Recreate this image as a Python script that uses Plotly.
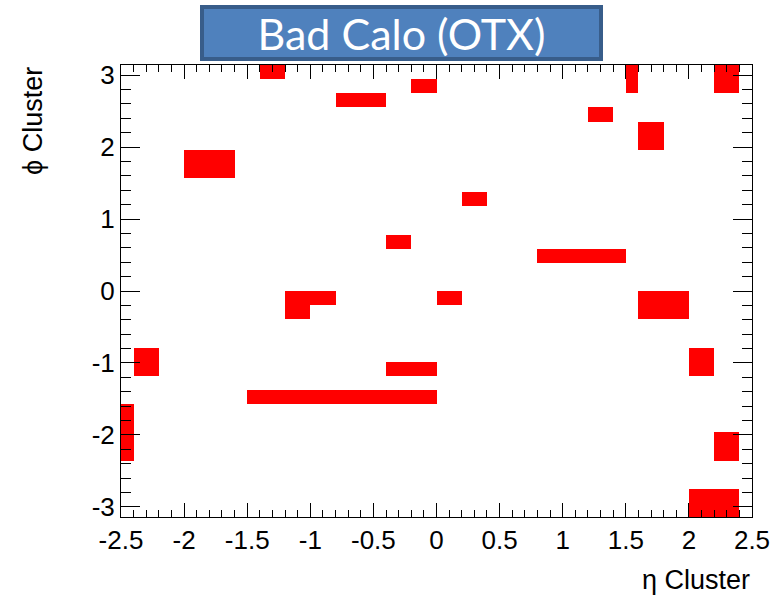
import numpy as np
import plotly.graph_objects as go

# --- data: hot (bad) calorimeter cells, eta ranges and phi-bin ranges (pi/16 bins, 0..31)
eta_low  = [-1.4, -0.8, -0.2, -2.0, 1.5, 2.2, 1.2, 1.6, 0.2, -0.4, 0.8, -1.2, -1.2, 0.0, 1.6, -2.4, 2.0, -0.4, -1.5, -2.5, 2.2, 2.0]
eta_high = [-1.2, -0.4,  0.0, -1.6, 1.6, 2.4, 1.4, 1.8, 0.4, -0.2, 1.5, -0.8, -1.0, 0.2, 2.0, -2.2, 2.2,  0.0,  0.0, -2.4, 2.4, 2.4]
phi_bin_low  = [31, 29, 30, 24, 30, 30, 28, 26, 22, 19, 18, 15, 14, 15, 14, 10, 10, 10, 8, 4, 4, 0]
phi_bin_high = [31, 29, 30, 25, 31, 31, 28, 27, 22, 19, 18, 15, 14, 15, 15, 11, 11, 10, 8, 7, 5, 1]

x_tick_vals = [-2.5, -2, -1.5, -1, -0.5, 0, 0.5, 1, 1.5, 2, 2.5]
x_tick_text = ["-2.5", "-2", "-1.5", "-1", "-0.5", "0", "0.5", "1", "1.5", "2", "2.5"]
y_tick_vals = [-3, -2, -1, 0, 1, 2, 3]
y_tick_text = ["-3", "-2", "-1", "0", "1", "2", "3"]

# --- binning
n_eta, n_phi = 50, 32
eta_edges = np.round(np.linspace(-2.5, 2.5, n_eta + 1), 3)
phi_edges = np.linspace(-np.pi, np.pi, n_phi + 1)
z = np.full((n_phi, n_eta), np.nan)
for el, eh, pl, ph in zip(eta_low, eta_high, phi_bin_low, phi_bin_high):
    i0 = int(round((el + 2.5) / 0.1))
    i1 = int(round((eh + 2.5) / 0.1))
    z[pl:ph + 1, i0:i1] = 1.0

fig = go.Figure(go.Heatmap(
    x=eta_edges, y=phi_edges, z=z,
    colorscale=[[0, "#ff0000"], [1, "#ff0000"]], zmin=0, zmax=1,
    showscale=False, hoverongaps=False,
))

font_tick = dict(family="Liberation Sans, Arial, sans-serif", size=26, color="black")
font_title = dict(family="Liberation Sans, Arial, sans-serif", size=27, color="black")

fig.update_layout(
    width=784, height=598,
    margin=dict(l=121, r=32, t=65, b=81),
    paper_bgcolor="white", plot_bgcolor="white",
    showlegend=False,
    xaxis=dict(
        range=[-2.5, 2.5], showgrid=False, zeroline=False,
        showline=True, linecolor="black", linewidth=1, mirror="ticks",
        ticks="inside", ticklen=14, tickcolor="black", tickwidth=1,
        tickmode="array", tickvals=x_tick_vals, ticktext=x_tick_text,
        tickfont=font_tick,
        minor=dict(ticks="inside", ticklen=7, dtick=0.1, tick0=0, tickcolor="black", showgrid=False),
    ),
    yaxis=dict(
        range=[-np.pi, np.pi], showgrid=False, zeroline=False,
        showline=True, linecolor="black", linewidth=1, mirror="ticks",
        ticks="inside", ticklen=19, tickcolor="black", tickwidth=1,
        tickmode="array", tickvals=y_tick_vals, ticktext=y_tick_text,
        tickfont=font_tick,
        minor=dict(ticks="inside", ticklen=10, dtick=0.2, tick0=0, tickcolor="black", showgrid=False),
    ),
    annotations=[
        dict(text="Bad Calo (OTX)", xref="paper", yref="paper", x=0.4445, y=1.0708,
             xanchor="center", yanchor="middle", showarrow=False,
             font=dict(family="Lato, Open Sans, sans-serif", size=43, color="white"),
             bgcolor="#4f81bd", bordercolor="#385d8a", borderwidth=4, borderpad=0,
             width=395, height=48),
        dict(text="η Cluster", xref="paper", yref="paper", x=1.0, y=-0.139,
             xanchor="right", yanchor="middle", showarrow=False, font=font_title),
        dict(text="ϕ Cluster", xref="paper", yref="paper", x=-0.1395, y=1.0,
             xanchor="center", yanchor="top", textangle=-90, showarrow=False, font=font_title),
    ],
)

fig.write_html("out.html")
